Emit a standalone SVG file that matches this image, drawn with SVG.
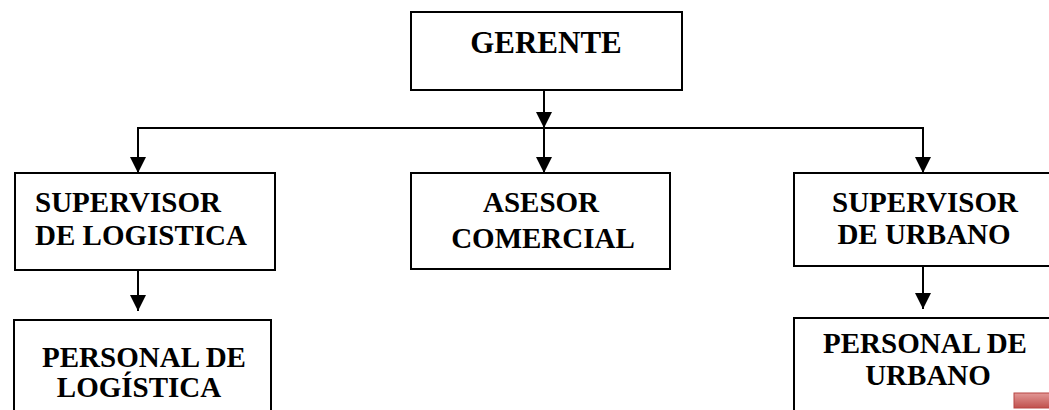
<svg xmlns="http://www.w3.org/2000/svg" width="1049" height="410" viewBox="0 0 1049 410">
  <style>
    .box { fill: #ffffff; stroke: #000000; stroke-width: 2; }
    text { font-family: 'Liberation Serif', 'DejaVu Serif', serif; font-weight: 700; font-size: 29px; fill: #000000; }
    .mid { text-anchor: middle; }
    .wire { fill: none; stroke: #000000; stroke-width: 2; }
  </style>
  <defs>
    <marker id="arrow" viewBox="0 0 16 16" refX="16" refY="8" markerWidth="16" markerHeight="16" markerUnits="userSpaceOnUse" orient="auto">
      <path d="M0,0 L16,8 L0,16 Z" fill="#000000"/>
    </marker>
    <linearGradient id="tabFill" x1="0" y1="0" x2="0" y2="1">
      <stop offset="0" stop-color="#e29896"/>
      <stop offset="1" stop-color="#c0504d"/>
    </linearGradient>
  </defs>

  <g id="connectors">
    <line class="wire" x1="544" y1="90" x2="544" y2="128" marker-end="url(#arrow)"/>
    <polyline class="wire" points="138,173 138,128 923,128 923,173"/>
    <line class="wire" x1="138" y1="128" x2="138" y2="173" marker-end="url(#arrow)"/>
    <line class="wire" x1="544" y1="128" x2="544" y2="173" marker-end="url(#arrow)"/>
    <line class="wire" x1="923" y1="128" x2="923" y2="173" marker-end="url(#arrow)"/>
    <line class="wire" x1="138" y1="266" x2="138" y2="311" marker-end="url(#arrow)"/>
    <line class="wire" x1="923" y1="263" x2="923" y2="309" marker-end="url(#arrow)"/>
  </g>

  <g id="gerente">
    <rect class="box" x="411" y="12" width="271" height="78"/>
    <text class="mid" x="546" y="53" font-family="Liberation Serif" style="font-size:31px">GERENTE</text>
  </g>

  <g id="supervisor-logistica">
    <rect class="box" x="15" y="173" width="260" height="97"/>
    <text x="35" y="212" font-family="Liberation Serif">SUPERVISOR</text>
    <text x="35" y="245" font-family="Liberation Serif">DE LOGISTICA</text>
  </g>

  <g id="asesor-comercial">
    <rect class="box" x="411" y="173" width="259" height="96"/>
    <text class="mid" x="541" y="212" font-family="Liberation Serif">ASESOR</text>
    <text class="mid" x="543" y="248" font-family="Liberation Serif">COMERCIAL</text>
  </g>

  <g id="supervisor-urbano">
    <rect class="box" x="794" y="173" width="265" height="93"/>
    <text class="mid" x="925" y="212" font-family="Liberation Serif">SUPERVISOR</text>
    <text class="mid" x="924" y="244" font-family="Liberation Serif">DE URBANO</text>
  </g>

  <g id="personal-logistica">
    <rect class="box" x="14" y="320" width="257" height="100"/>
    <text class="mid" x="144" y="367" font-family="Liberation Serif">PERSONAL DE</text>
    <text class="mid" x="139" y="397" font-family="Liberation Serif">LOGÍSTICA</text>
  </g>

  <g id="personal-urbano">
    <rect class="box" x="794" y="318" width="265" height="102"/>
    <text class="mid" x="925" y="353" font-family="Liberation Serif">PERSONAL DE</text>
    <text class="mid" x="928" y="385" font-family="Liberation Serif">URBANO</text>
  </g>

  <rect x="1014" y="393" width="40" height="15" fill="url(#tabFill)" stroke="#b84542" stroke-width="1"/>
</svg>
